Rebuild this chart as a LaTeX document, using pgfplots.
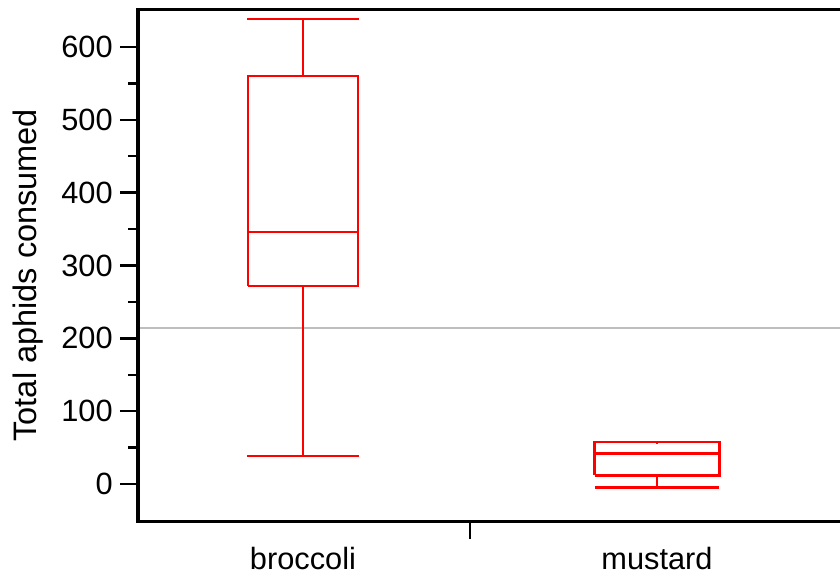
\documentclass[border=0pt]{standalone}
\usepackage{fontspec}
\setmainfont{Liberation Sans}
\usepackage{pgfplots}
\pgfplotsset{compat=1.18}
\definecolor{boxred}{RGB}{255,0,0}
\definecolor{refgray}{RGB}{190,190,190}
\begin{document}
\begin{tikzpicture}
\begin{axis}[
  scale only axis, width=280.8pt, height=204.4pt,
  xmin=-0.466, xmax=1.517, ymin=-50.8, ymax=650.8,
  axis line style={draw=none},
  font=\fontsize{12.3}{14}\selectfont,
  tick label style={font=\fontsize{12.3}{14}\selectfont},
  yticklabel style={xshift=0.6pt},
  /pgf/number format/assume math mode=true,
  ytick={0,100,...,600}, minor ytick={50,150,...,550},
  ytick pos=left, xtick pos=bottom, tick align=outside,
  major tick length=7.2pt, minor tick length=4pt,
  tick style={black, line width=1pt},
  xtick={0.472}, xticklabels={},
  extra x ticks={0,1}, extra x tick labels={broccoli,mustard},
  extra x tick style={major tick length=0pt, xticklabel style={yshift=-7pt}},
  ylabel={Total aphids consumed},
  ylabel style={font=\fontsize{13}{15}\selectfont, at={([xshift=-43.8pt]axis description cs:0,0.481)}, anchor=center},
  clip=false,
  every axis plot/.append style={line width=1pt},
]
\addplot[refgray, line width=0.9pt] coordinates {(-0.466,214.2) (1.517,214.2)};
% broccoli
\addplot[boxred] coordinates {(-0.155,271.9) (0.155,271.9) (0.155,560.2) (-0.155,560.2) (-0.155,271.9)};
\addplot[boxred] coordinates {(-0.155,346) (0.155,346)};
\addplot[boxred] coordinates {(0,560.2) (0,638.5)};
\addplot[boxred] coordinates {(-0.158,638.5) (0.158,638.5)};
\addplot[boxred] coordinates {(0,271.9) (0,38.4)};
\addplot[boxred] coordinates {(-0.158,38.4) (0.158,38.4)};
% mustard
\addplot[boxred] coordinates {(0.8235,12) (1.1765,12) (1.1765,58) (0.8235,58) (0.8235,12)};
\addplot[boxred] coordinates {(0.8235,42) (1.1765,42)};
\addplot[boxred] coordinates {(1,58) (1,55)};
\addplot[boxred] coordinates {(1,12) (1,-5)};
\addplot[boxred] coordinates {(0.8235,-5) (1.1765,-5)};
\draw[black, line width=1.2pt] (rel axis cs:1,1) -- (rel axis cs:0,1) -- (rel axis cs:0,0) -- (rel axis cs:1,0);
\end{axis}
\pgfresetboundingbox
\path (-55.2pt,-24.4pt) rectangle (280.8pt,208.4pt);
\end{tikzpicture}
\end{document}
